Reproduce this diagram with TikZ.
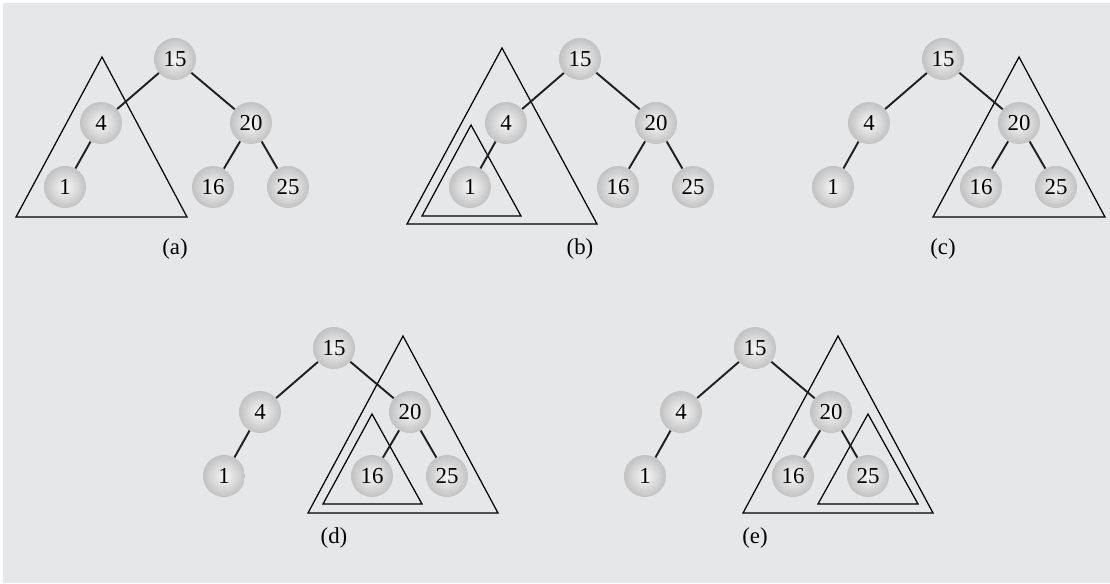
\documentclass[tikz,border=0pt]{standalone}
\usepackage{fontspec}
\setmainfont{Liberation Serif}
\definecolor{fondo}{RGB}{230,231,233}
\definecolor{tinta}{RGB}{35,31,32}
\tikzset{
  nodo/.style={circle, minimum size=0.84cm, inner sep=0pt, inner color=white!97!black,
    outer color=black!24, font=\fontsize{13}{15}\selectfont},
  arista/.style={line width=1.1pt, draw=tinta},
  subarbol/.style={line width=0.7pt, line join=miter},
  etiqueta/.style={font=\fontsize{13}{15}\selectfont}
}
\begin{document}
\begin{tikzpicture}[x=0.02cm, y=-0.02cm]
  \useasboundingbox (0,0) rectangle (1110,583);
  \fill[white] (0,0) rectangle (1110,583);
  \fill[fondo] (3,3) rectangle (1110,583);
  % los subarboles marcados con triangulos
  \draw[subarbol] (102,57) -- (16,217) -- (187,217) -- cycle;
  \draw[subarbol] (502,48) -- (407,224) -- (597,224) -- cycle;
  \draw[subarbol] (471,125) -- (422,216) -- (521,216) -- cycle;
  \draw[subarbol] (1019,57) -- (933,217) -- (1105,217) -- cycle;
  \draw[subarbol] (403,336) -- (308,513) -- (498,513) -- cycle;
  \draw[subarbol] (372,414) -- (323,504) -- (422,504) -- cycle;
  \draw[subarbol] (838,336) -- (743,513) -- (933,513) -- cycle;
  \draw[subarbol] (868,414) -- (818,504) -- (918,504) -- cycle;
  % los cinco arboles, todos iguales, con su letra debajo
  \foreach \t/\x/\y in {a/175/59, b/580/59, c/943/59, d/334/348, e/755/348} {
    \node[nodo] (\t-15) at (\x,\y) {15};
    \node[nodo] (\t-4) at (\x-74,\y+64) {4};
    \node[nodo] (\t-20) at (\x+76,\y+64) {20};
    \node[nodo] (\t-1) at (\x-110,\y+128) {1};
    \node[nodo] (\t-16) at (\x+38,\y+128) {16};
    \node[nodo] (\t-25) at (\x+113,\y+128) {25};
    \draw[arista] (\t-15) -- (\t-4);
    \draw[arista] (\t-15) -- (\t-20);
    \draw[arista] (\t-4) -- (\t-1);
    \draw[arista] (\t-20) -- (\t-16);
    \draw[arista] (\t-20) -- (\t-25);
    \node[etiqueta] (\t-letra) at (\x,\y+190) {(\t)};
  }
\end{tikzpicture}
\end{document}
